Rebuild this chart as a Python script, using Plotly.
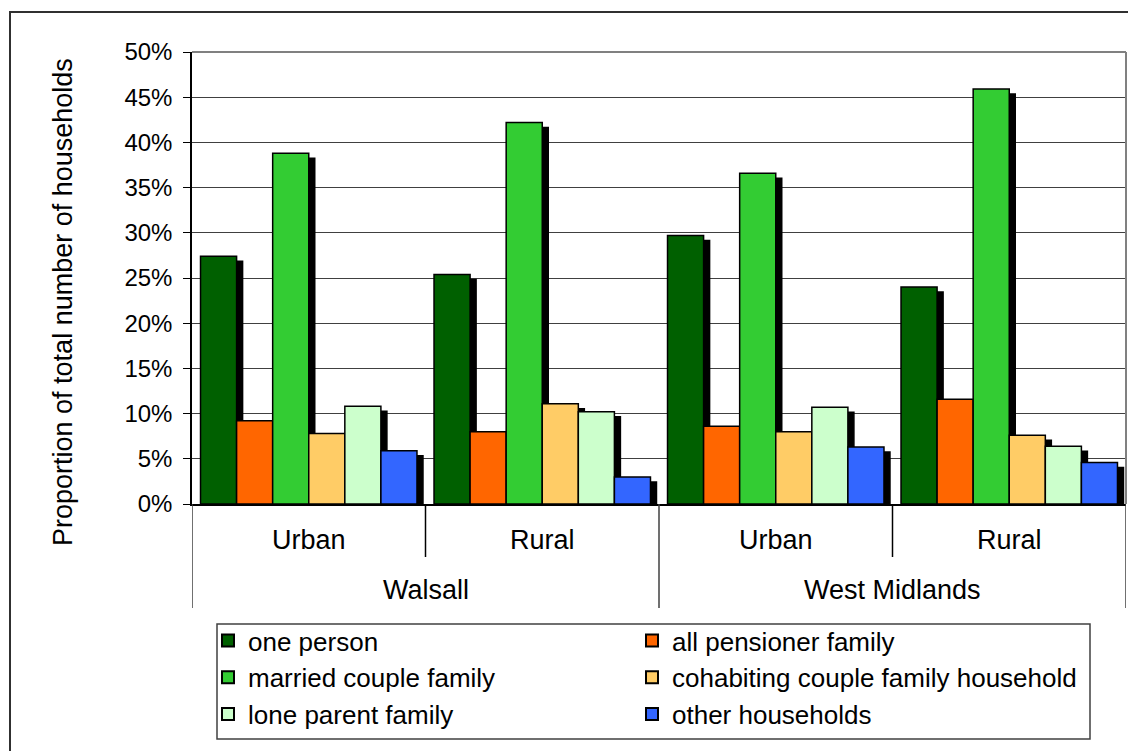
import plotly.graph_objects as go

# ---- data ----
regions = ["Walsall", "Walsall", "West Midlands", "West Midlands"]
areas = ["Urban", "Rural", "Urban", "Rural"]
series_names = ["one person", "all pensioner family", "married couple family",
                "cohabiting couple family household", "lone parent family", "other households"]
one_person = [27.4, 25.4, 29.7, 24.0]
all_pensioner_family = [9.2, 8.0, 8.6, 11.6]
married_couple_family = [38.8, 42.2, 36.6, 45.9]
cohabiting_couple_family = [7.8, 11.1, 8.0, 7.6]
lone_parent_family = [10.8, 10.2, 10.7, 6.4]
other_households = [5.9, 3.0, 6.3, 4.6]
y_ticks = [0, 5, 10, 15, 20, 25, 30, 35, 40, 45, 50]
y_title = "Proportion of total number of households"

series_values = [one_person, all_pensioner_family, married_couple_family,
                 cohabiting_couple_family, lone_parent_family, other_households]
colors = ["#006000", "#FF6600", "#33CC33", "#FFCC66", "#CCFFCC", "#3366FF"]
legend_column = ["legend", "legend2", "legend", "legend2", "legend", "legend2"]

cats = [f"{r} {a}" for r, a in zip(regions, areas)]

FONT = "Liberation Sans, Arial, sans-serif"
OFF = 8  # page body margin
W, H = 1136 - OFF, 751 - OFF
PX0, PX1, PY0, PY1 = 192, 1126, 52, 504  # plot area in screen px
L, T = PX0 - OFF, PY0 - OFF
pw = PX1 - PX0
ph = PY1 - PY0
R = W - L - pw
B = H - T - ph


def px_x(sx):
    return (sx - PX0) / pw


def px_y(sy):
    return (PY1 - sy) / ph


# shadow offsets (pixels -> axis units)
sx_px, sy_px = 6, 5
dx = sx_px / pw * len(cats)
dy = sy_px / ph * 50

fig = go.Figure()

# shadows on base axes (drawn below)
for name, vals in zip(series_names, series_values):
    fig.add_trace(go.Bar(x=cats, y=vals, name=name, showlegend=False,
                         marker=dict(color="black", line=dict(color="black", width=1.5)),
                         xaxis="x", yaxis="y", hoverinfo="skip"))

# main bars on overlay axes
for name, vals, c, lg in zip(series_names, series_values, colors, legend_column):
    fig.add_trace(go.Bar(x=cats, y=vals, name=name, legend=lg,
                         marker=dict(color=c, line=dict(color="black", width=1.5)),
                         xaxis="x2", yaxis="y2"))

legend_common = dict(xanchor="left", yanchor="top", orientation="v",
                     borderwidth=0, bgcolor="rgba(0,0,0,0)",
                     font=dict(family=FONT, size=26, color="black"),
                     traceorder="normal", itemsizing="constant", tracegroupgap=0)

fig.update_layout(
    width=W, height=H,
    margin=dict(l=L, r=R, t=T, b=B, pad=0, autoexpand=False),
    paper_bgcolor="white", plot_bgcolor="white",
    barmode="group", bargap=0.073, bargroupgap=0,
    font=dict(family=FONT, size=24, color="black"),
    showlegend=True,
    legend=dict(x=px_x(208), y=px_y(617), **legend_common),
    legend2=dict(x=px_x(632), y=px_y(617), **legend_common),
    xaxis=dict(type="category", range=[-0.5 - dx, len(cats) - 0.5 - dx],
               showticklabels=False, ticks="", showgrid=False, zeroline=False,
               showline=False),
    yaxis=dict(range=[dy, 50 + dy], showticklabels=False, ticks="", showgrid=False,
               zeroline=False, showline=False),
    xaxis2=dict(type="category", overlaying="x", range=[-0.5, len(cats) - 0.5],
                showticklabels=False, ticks="", showgrid=False, zeroline=False,
                showline=True, linecolor="black", linewidth=2),
    yaxis2=dict(overlaying="y", side="left", range=[0, 50], tickvals=y_ticks,
                ticktext=[f"{v}%" for v in y_ticks],
                ticks="outside", ticklen=7, tickcolor="black", tickwidth=1,
                ticklabelstandoff=6,
                showgrid=True, gridcolor="#404040", gridwidth=1,
                zeroline=False, showline=True, linecolor="black", linewidth=1.5,
                tickfont=dict(family=FONT, size=24, color="black")),
)

shapes = []
# plot area border (gray top/right)
shapes.append(dict(type="line", xref="paper", yref="paper", x0=0, x1=1, y0=1, y1=1,
                   line=dict(color="#808080", width=2)))
shapes.append(dict(type="line", xref="paper", yref="paper", x0=1, x1=1, y0=0, y1=1,
                   line=dict(color="#808080", width=2)))
# category divider lines under the axis
n = len(cats)
for i in range(n + 1):
    xb = i - 0.5
    if i == 0 or i == n or regions[i - 1] != regions[i]:
        ybot = px_y(608)
        col = "#404040"
    else:
        ybot = px_y(557)
        col = "black"
    shapes.append(dict(type="line", xref="x2", yref="paper", x0=xb, x1=xb, y0=0, y1=ybot,
                       line=dict(color=col, width=1.5)))
# legend box
shapes.append(dict(type="rect", xref="paper", yref="paper",
                   x0=px_x(217), x1=px_x(1090), y0=px_y(739), y1=px_y(624),
                   line=dict(color="#404040", width=1.5)))
# outer chart border
shapes.append(dict(type="rect", xref="paper", yref="paper",
                   x0=px_x(10), x1=px_x(1160), y0=px_y(780), y1=px_y(12),
                   line=dict(color="#303030", width=2)))
fig.update_layout(shapes=shapes)

annotations = []
for i, a in enumerate(areas):
    annotations.append(dict(text=a, xref="x2", yref="paper", x=i, y=px_y(540),
                            showarrow=False, xanchor="center", yanchor="middle",
                            font=dict(family=FONT, size=27, color="black")))
# outer group labels
groups = []
for i, r in enumerate(regions):
    if not groups or groups[-1][0] != r:
        groups.append([r, i, i])
    else:
        groups[-1][2] = i
for r, s, e in groups:
    annotations.append(dict(text=r, xref="x2", yref="paper", x=(s + e) / 2, y=px_y(590),
                            showarrow=False, xanchor="center", yanchor="middle",
                            font=dict(family=FONT, size=27, color="black")))
annotations.append(dict(text=y_title, xref="paper", yref="paper",
                        x=px_x(63), y=px_y(302), textangle=-90,
                        showarrow=False, xanchor="center", yanchor="middle",
                        font=dict(family=FONT, size=27, color="black")))
fig.update_layout(annotations=annotations)

fig.write_html("out.html")
